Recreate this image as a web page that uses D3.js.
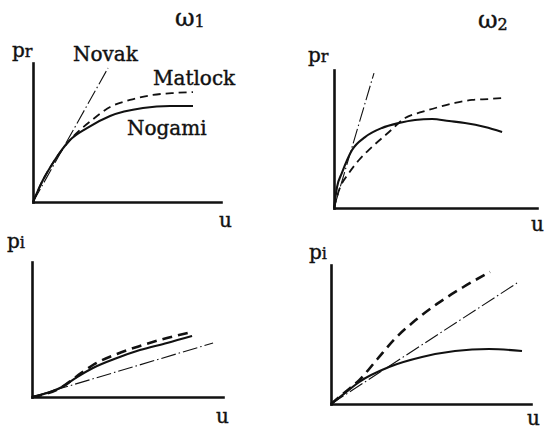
<!DOCTYPE html>
<html>
<head>
<meta charset="utf-8">
<script src="https://cdn.jsdelivr.net/npm/d3@7"></script>
<style>
  html, body { margin: 0; padding: 0; background: #fff; }
  svg { display: block; }
  text { font-family: "DejaVu Serif", "Liberation Serif", serif; fill: #111; stroke: #111; stroke-width: 0.4; }
</style>
</head>
<body>
<svg id="chart" width="545" height="429"></svg>
<script>
// Normalised axis range shared by all four sketches (no ticks are shown)
const uDomain = [0, 10];
const pDomain = [0, 10];

// Real part p_r at frequency ω1  — [u, p]
const realW1Nogami  = [[0,0],[0.53,1.58],[1.06,2.81],[1.97,4.46],[2.87,5.32],[4.10,6.19],[5.85,6.76],[7.29,6.91],[8.51,6.91]];
const realW1Matlock = [[0,0],[0.53,1.58],[1.06,2.81],[1.97,4.46],[3.14,5.90],[4.10,6.83],[5.16,7.34],[6.38,7.70],[7.45,7.84],[8.51,7.91]];
const realW1Novak   = [[0,0],[3.99,9.64]];

// Real part p_r at frequency ω2
const realW2Nogami  = [[0,0],[0.15,1.52],[0.39,2.54],[0.89,4.20],[1.53,5.14],[2.36,5.80],[3.20,6.16],[3.99,6.38],[4.83,6.45],[5.67,6.30],[6.45,6.16],[7.44,5.87],[8.28,5.51]];
const realW2Matlock = [[0,0],[0.25,1.30],[0.74,2.54],[1.23,3.48],[1.87,4.42],[2.71,5.51],[3.50,6.52],[4.33,6.96],[5.17,7.32],[5.96,7.61],[6.80,7.83],[7.64,7.90],[8.28,7.97]];
const realW2Novak   = [[0,0],[1.97,9.78]];

// Imaginary part p_i at frequency ω1
const imagW1Nogami  = [[0,0],[1.57,0.74],[2.36,1.48],[3.19,2.15],[4.45,2.89],[5.65,3.48],[7.07,4.00],[8.38,4.52]];
const imagW1Matlock = [[0,0],[1.57,0.74],[2.36,1.55],[3.19,2.37],[4.45,3.19],[5.65,3.78],[7.07,4.37],[8.38,4.81]];
const imagW1Novak   = [[0,0],[9.48,4.00]];

// Imaginary part p_i at frequency ω2
const imagW2Nogami  = [[0,0],[0.70,0.79],[1.40,1.58],[2.90,2.66],[4.55,3.38],[6.20,3.81],[7.90,3.96],[9.55,3.81]];
const imagW2Matlock = [[0,0],[0.70,0.85],[1.40,1.70],[2.30,3.20],[3.20,4.70],[4.20,6.00],[5.30,7.20],[6.60,8.40],[7.95,9.50]];
const imagW2Novak   = [[0,0],[9.30,8.70]];

// Method names used in the labels
const methodNames = ["Novak", "Matlock", "Nogami"];

const svg = d3.select("#chart");

// Sketch frames: origin (x0, y0), end of u axis (x1), top of p axis (y1)
const frames = [
  { x0: 33,  x1: 221, y0: 202, y1: 63,  nogami: realW1Nogami, matlock: realW1Matlock, novak: realW1Novak, heavy: false },
  { x0: 334, x1: 537, y0: 208, y1: 70,  nogami: realW2Nogami, matlock: realW2Matlock, novak: realW2Novak, heavy: false },
  { x0: 32,  x1: 223, y0: 397, y1: 262, nogami: imagW1Nogami, matlock: imagW1Matlock, novak: imagW1Novak, heavy: true },
  { x0: 331, x1: 531, y0: 404, y1: 265, nogami: imagW2Nogami, matlock: imagW2Matlock, novak: imagW2Novak, heavy: true }
];

frames.forEach(f => {
  const x = d3.scaleLinear().domain(uDomain).range([f.x0, f.x1]);
  const y = d3.scaleLinear().domain(pDomain).range([f.y0, f.y1]);
  const g = svg.append("g");

  // bare axes: domain lines only
  const ax = g.append("g").attr("transform", `translate(0,${f.y0})`)
    .call(d3.axisBottom(x).tickValues([]).tickSizeOuter(0));
  const ay = g.append("g").attr("transform", `translate(${f.x0},0)`)
    .call(d3.axisLeft(y).tickValues([]).tickSizeOuter(0));
  [ax, ay].forEach(a => a.select(".domain")
    .attr("stroke", "#111").attr("stroke-width", 2.6).attr("stroke-linecap", "square"));

  const line = d3.line().x(d => x(d[0])).y(d => y(d[1])).curve(d3.curveMonotoneX);

  // Novak: thin dash-dot straight line
  g.append("path").attr("d", line(f.novak))
    .attr("fill", "none").attr("stroke", "#111").attr("stroke-width", 1.1)
    .attr("stroke-dasharray", "15,3,1.5,3");

  // Matlock: dashed
  g.append("path").attr("d", line(f.matlock))
    .attr("fill", "none").attr("stroke", "#111")
    .attr("stroke-width", f.heavy ? 2.6 : 1.8)
    .attr("stroke-dasharray", f.heavy ? "10,6" : "8,5");

  // Nogami: solid
  g.append("path").attr("d", line(f.nogami))
    .attr("fill", "none").attr("stroke", "#111").attr("stroke-width", 2.1);
});

// Text labels
function label(xp, yp, main, sub, size, subSize, dy) {
  const t = svg.append("text").attr("x", xp).attr("y", yp).attr("font-size", size);
  t.append("tspan").text(main);
  if (sub) t.append("tspan").attr("font-size", subSize).attr("dy", dy).text(sub);
}

label(175, 26, "ω", "1", 24, 16, 1);
label(478, 28, "ω", "2", 24, 16, 2);
label(12, 57, "p", "r", 20, 16, 0);
label(308, 62, "p", "r", 20, 16, 0);
label(7, 248, "p", "i", 20, 16, 0);
label(309, 259, "p", "i", 20, 16, 0);
label(219, 227, "u", null, 20);
label(531, 231, "u", null, 20);
label(216, 423, "u", null, 20);
label(527, 425, "u", null, 20);

label(73, 61, methodNames[0], null, 20);
label(153, 85, methodNames[1], null, 20);
label(127, 135, methodNames[2], null, 20);
</script>
</body>
</html>
